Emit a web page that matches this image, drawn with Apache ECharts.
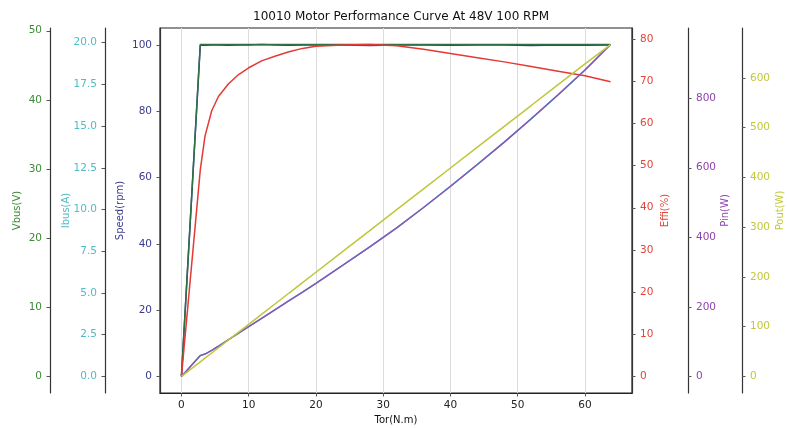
<!DOCTYPE html>
<html>
<head>
<meta charset="utf-8">
<script src="https://cdn.jsdelivr.net/npm/echarts@6/dist/echarts.min.js"></script>
<style>
  html, body { margin: 0; padding: 0; background: #fff; }
  #main { width: 787px; height: 428px; }
</style>
</head>
<body>
<div id="main"></div>
<script>
// 数据
const torque = [0, 2.8, 3.5, 4.5, 5.5, 7, 8.5, 10, 12, 14, 16, 18, 20, 24, 28, 32, 36, 40, 44, 48, 52, 56, 60, 63.8];
const vbus = [0, 48, 48, 48, 48, 48, 48, 48, 48, 48, 48, 48, 48, 48, 48, 48, 48, 48, 48, 48, 48, 48, 48, 48];
const ibus = [0, 1.25, 1.34, 1.56, 1.81, 2.20, 2.59, 2.98, 3.50, 4.02, 4.54, 5.05, 5.57, 6.66, 7.76, 8.90, 10.12, 11.39, 12.70, 14.04, 15.43, 16.87, 18.36, 19.88];
const speed = [0, 100, 99.9, 100, 100, 99.9, 100, 100, 100.1, 100, 99.9, 100, 100, 100, 99.8, 100, 100, 99.9, 100, 100, 99.8, 100, 99.9, 100];
const effi = [0, 49, 57, 63, 66.4, 69.4, 71.6, 73.2, 74.9, 76.0, 77.0, 77.8, 78.3, 78.6, 78.7, 78.4, 77.6, 76.6, 75.6, 74.6, 73.5, 72.4, 71.3, 69.9];
const pin = [0, 59.8, 64.2, 74.8, 86.7, 105.6, 124.3, 143.0, 167.8, 192.9, 217.7, 242.3, 267.4, 319.7, 372.6, 427.4, 485.8, 546.9, 609.5, 673.9, 740.8, 809.9, 881.2, 954.2];
const pout = [0, 29.3, 36.6, 47.1, 57.6, 73.3, 89.0, 104.7, 125.7, 146.6, 167.6, 188.5, 209.4, 251.3, 293.2, 335.1, 377.0, 418.9, 460.8, 502.7, 544.5, 586.4, 628.3, 667];

// 刻度
const torTicks = [0, 10, 20, 30, 40, 50, 60];
const vbusTicks = [0, 10, 20, 30, 40, 50];
const ibusTicks = [0, 2.5, 5, 7.5, 10, 12.5, 15, 17.5, 20];
const speedTicks = [0, 20, 40, 60, 80, 100];
const effiTicks = [0, 10, 20, 30, 40, 50, 60, 70, 80];
const pinTicks = [0, 200, 400, 600, 800];
const poutTicks = [0, 100, 200, 300, 400, 500, 600];

const FONT = 'DejaVu Sans';

// matplotlib 风格的 5% 边距
function pad(arr) {
    let lo = Math.min(...arr), hi = Math.max(...arr);
    let m = (hi - lo) * 0.05;
    return { min: lo - m, max: hi + m };
}

function yAxis(name, color, position, offset, gap, ticks, range, fmt) {
    return {
        type: 'value',
        name: name,
        position: position,
        offset: offset,
        min: range.min,
        max: range.max,
        nameLocation: 'middle',
        nameRotate: 90,
        nameGap: gap,
        nameMoveOverlap: false,
        nameTextStyle: { color: color, fontFamily: FONT, fontSize: 10 },
        axisLine: { show: true, onZero: false, lineStyle: { color: '#333', width: 1.2 } },
        axisTick: { show: true, inside: false, length: 3.5, customValues: ticks, lineStyle: { color: '#555' } },
        axisLabel: {
            color: color, fontFamily: FONT, fontSize: 10.5, margin: 8,
            customValues: ticks,
            formatter: fmt || function (v) { return String(v); }
        },
        splitLine: { show: false }
    };
}

function zip(ys) {
    return torque.map((t, i) => [t, ys[i]]);
}

function line(name, ys, axisIdx, color, z) {
    return {
        name: name,
        type: 'line',
        yAxisIndex: axisIdx,
        data: zip(ys),
        showSymbol: false,
        symbol: 'none',
        z: z,
        lineStyle: { color: color, width: 1.5 },
        animation: false
    };
}

const chart = echarts.init(document.getElementById('main'));
const xr = pad(torque);

const option = {
    animation: false,
    title: {
        text: '10010 Motor Performance Curve At 48V 100 RPM',
        left: 396,
        textAlign: 'center',
        top: 6,
        textStyle: { fontFamily: FONT, fontSize: 12, fontWeight: 'normal', color: '#111' }
    },
    grid: {
        left: 160, right: 155, top: 28, bottom: 35,
        outerBoundsMode: 'none',
        containLabel: false,
        show: true, borderColor: '#222', borderWidth: 1.2, backgroundColor: 'transparent'
    },
    xAxis: {
        type: 'value',
        min: xr.min,
        max: xr.max,
        name: 'Tor(N.m)',
        nameLocation: 'middle',
        nameGap: 22,
        nameMoveOverlap: false,
        nameTextStyle: { color: '#111', fontFamily: FONT, fontSize: 10 },
        axisLine: { show: true, onZero: false, lineStyle: { color: '#222', width: 1.2 } },
        axisTick: { show: true, length: 3.5, customValues: torTicks, lineStyle: { color: '#555' } },
        axisLabel: { color: '#222', fontFamily: FONT, fontSize: 10.5, margin: 7, customValues: torTicks },
        splitLine: { show: true, lineStyle: { color: '#dcdcdc', width: 1 } }
    },
    yAxis: [
        yAxis('Vbus(V)', '#3d8b37', 'left', 110, 28, vbusTicks, pad(vbus)),
        yAxis('Ibus(A)', '#4fbcc6', 'left', 55, 34, ibusTicks, pad(ibus), v => v.toFixed(1)),
        yAxis('Speed(rpm)', '#3c3c8c', 'left', 0, 35, speedTicks, pad(speed)),
        yAxis('Effi(%)', '#e0453a', 'right', 0, 28, effiTicks, pad(effi)),
        yAxis('Pin(W)', '#8e44ad', 'right', 56, 32, pinTicks, pad(pin)),
        yAxis('Pout(W)', '#c2c83a', 'right', 110, 33, poutTicks, pad(pout))
    ],
    series: [
        line('Speed', speed, 2, '#3a3a8c', 2),
        line('Vbus', vbus, 0, '#2f7045', 3),
        line('Ibus', ibus, 1, '#3fb8c4', 4),
        line('Effi', effi, 3, '#e53935', 5),
        line('Pin', pin, 4, '#8a55b8', 6),
        line('Pout', pout, 5, '#bfc63a', 7)
    ]
};

chart.setOption(option);
</script>
</body>
</html>
